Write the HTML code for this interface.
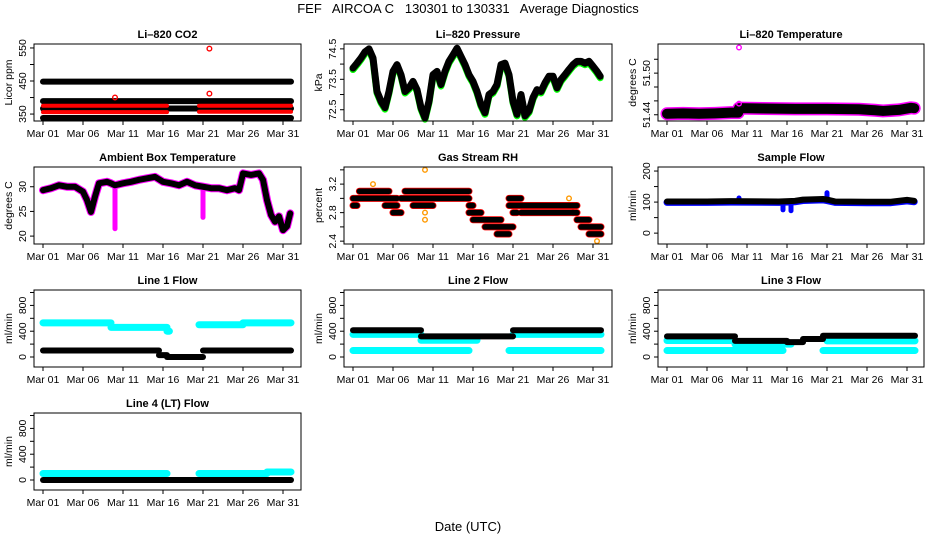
<!DOCTYPE html>
<html><head><meta charset="utf-8"><style>
html,body{margin:0;padding:0;background:#fff;}
svg{display:block;font-family:"Liberation Sans",Arial,sans-serif;}
</style></head><body>
<svg id="c" width="936" height="540" viewBox="0 0 936 540" xmlns="http://www.w3.org/2000/svg">
<text x="468" y="13" text-anchor="middle" font-size="13" style="white-space:pre" xml:space="preserve">FEF   AIRCOA C   130301 to 130331   Average Diagnostics</text>
<text x="468" y="531" text-anchor="middle" font-size="13">Date (UTC)</text>
</svg>
<script>
// ---------- data ----------
const dateTickDays = [0,5,10,15,20,25,30];
const dateTickLabels = ["Mar 01","Mar 06","Mar 11","Mar 16","Mar 21","Mar 26","Mar 31"];

const co2Black = [[0,31,448],[0,31,389],[0,31,367],[0,31,338]];
const co2Red = [[0,15.5,375],[0,15.5,356],[19.5,31,375],[19.5,31,357]];
const co2Outliers = [[9,400],[20.8,548],[20.8,412]];

const presDays = [0,0.5,1,1.5,2,2.5,3,3.5,4,4.5,5,5.5,6,6.5,7,7.5,8,8.5,9,9.5,10,10.5,11,11.5,12,12.5,13,13.5,14,14.5,15,15.5,16,16.5,17,17.5,18,18.5,19,19.5,20,20.5,21,21.5,22,22.5,23,23.5,24,24.5,25,25.5,26,26.5,27,27.5,28,28.5,29,29.5,30,30.5,30.9];
const presVals = [73.87,74.03,74.2,74.4,74.5,74.2,73.1,72.78,72.57,73.1,73.76,73.98,73.65,73.1,73.22,73.43,73.16,72.57,72.24,72.78,73.65,73.76,73.33,73.76,74.09,74.3,74.52,74.25,73.98,73.65,73.43,73.1,72.67,72.4,73,73.1,73.33,73.98,74.03,73.65,72.78,72.35,73,72.3,72.46,72.9,73.16,73.1,73.38,73.6,73.6,73.22,73.49,73.65,73.82,73.98,74.09,74.09,74.03,74.09,73.93,73.76,73.6];

const tempDays = [0,2,4,6,8,8.9,9,12,16,20,24,26,27,29,30.5,30.9];
const tempVals = [51.4415,51.442,51.4415,51.442,51.443,51.443,51.4495,51.449,51.4485,51.4485,51.448,51.4465,51.4455,51.447,51.450,51.4495];
const tempOutliers = [[9,51.537],[9,51.456]];

const ambDays = [0,1,2,3,4,5,5.5,6,6.5,7,8,8.5,9,10,11,12,13,14,15,16,17,18,19,20,21,22,23,24,24.5,25,26,27,27.5,28,28.5,29,29.5,30,30.5,30.9];
const ambVals = [29.3,29.7,30.3,30,30,29,27.3,24.9,28,30.7,31,30.7,30.3,30.7,31,31.4,31.7,32,31,30.7,30.3,31,30.3,30,29.7,29.7,29.3,29.7,29.3,32.7,32.4,32.7,31.4,27.3,24.3,22.9,24,21.2,22,24.6];
const ambDips = [[9,21.5,29.5],[20,23.8,29.5]];

const rhBands = [[0,5.5,3.0],[6,14.5,3.0],[0.8,4.5,3.1],[6.5,14.5,3.1],[0,0.5,2.9],[4,5.5,2.9],[7.5,10,2.9],[14.5,15,2.9],[5,6,2.8],[14.5,16,2.8],[20,20.5,2.8],[21,27.5,2.8],[27.5,28,2.8],[15,18.5,2.7],[28,29.5,2.7],[16.5,20,2.6],[28.5,31,2.6],[18,19.5,2.5],[29.5,31,2.5],[19.5,21,3.0],[19.5,28,2.9]];
const rhOutliers = [[2.5,3.2],[9,3.4],[9,2.7],[9,2.8],[27,3.0],[30.5,2.4]];

const sampDays = [0,5,8,14,16,17,19.5,20,21,25,28,30,30.9];
const sampVals = [102,102,103,102,104,108,110,108,102,101,101,107,104];
const sampBlueDips = [[14.5,75],[15.5,72],[20,130],[9,113]];

const l1Cyan = [[0,8.5,530],[8.5,15.5,460],[15.5,15.8,400],[19.5,25,500],[25,31,530]];
const l1Black = [[0,14.5,100],[14.5,15.5,30],[15.5,20,0],[20,31,100]];
const l2Black = [[0,8.5,415],[8.5,20,320],[20,31,415]];
const l2Cyan = [[0,8.5,350],[8.5,15.5,260],[20,31,350],[0,14.5,100],[19.5,31,100]];
const l3Black = [[0,8.5,320],[8.5,15,250],[15,17,230],[17,19.5,280],[19.5,31,330]];
const l3Cyan = [[0,8.5,255],[8.5,15.5,200],[20,31,250],[0,14.5,100],[19.5,31,100]];
const l4Cyan = [[0,15.5,100],[19.5,28,100],[28,31,125]];
const l4Black = [[0,31,0]];

// ---------- drawing ----------
const svg = document.getElementById('c');
const NS = 'http://www.w3.org/2000/svg';
function mk(tag, attrs, parent){const e=document.createElementNS(NS,tag);for(const k in attrs)e.setAttribute(k,attrs[k]);(parent||svg).appendChild(e);return e;}

const colLeft=[34,344,658], colW=[267,268,266], rowTop=[44,167,290,413], H=77;

function makePanel(name,title,ylabel,col,row,ylo,yhi,ticks,labels){
  const L=colLeft[col],T=rowTop[row],W=colW[col],B=T+H;
  const g=mk('g',{});
  
  
  const xs=d=>L+9+d*8;
  const ys=v=>B-(v-ylo)/(yhi-ylo)*H;
  const t=mk('text',{x:L+W/2,y:T-6,'text-anchor':'middle','font-size':11,'font-weight':'bold'},g);
  t.textContent=title;
  
  
  const plot=mk('g',{},g);
  
  
  const box=mk('rect',{x:L,y:T,width:W,height:H,fill:'none',stroke:'#000','stroke-width':1},g);
  
  
  const xa=mk('g',{},g);
  
  
  mk('line',{x1:xs(dateTickDays[0]),x2:xs(dateTickDays[dateTickDays.length-1]),y1:B,y2:B,stroke:'#000'},xa);
  dateTickDays.forEach((d,i)=>{
    mk('line',{x1:xs(d),x2:xs(d),y1:B,y2:B+4,stroke:'#000'},xa);
    const tl=mk('text',{x:xs(d),y:B+16,'text-anchor':'middle','font-size':10.5},xa);
    tl.textContent=dateTickLabels[i];
    
    
  });
  const ya=mk('g',{},g);
  
  
  mk('line',{x1:L,x2:L,y1:ys(ticks[0]),y2:ys(ticks[ticks.length-1]),stroke:'#000'},ya);
  ticks.forEach((v,i)=>{
    const y=ys(v);
    mk('line',{x1:L-4,x2:L,y1:y,y2:y,stroke:'#000'},ya);
    if(labels[i]){
      const tl=mk('text',{x:L-8,y:y,'text-anchor':'middle','font-size':10.5,transform:`rotate(-90 ${L-8} ${y})`},ya);
      tl.textContent=labels[i];
      
      
    }
  });
  const yt=mk('text',{x:L-22,y:T+H/2,'text-anchor':'middle','font-size':10.5,transform:`rotate(-90 ${L-22} ${T+H/2})`},g);
  yt.textContent=ylabel;
  
  
  return {plot,xs,ys};
}
function bands(p,list,color,w,dy,nm){
  list.forEach(s=>{
    const e=mk('line',{x1:p.xs(s[0]),x2:p.xs(s[1]),y1:p.ys(s[2])+(dy||0),y2:p.ys(s[2])+(dy||0),stroke:color,'stroke-width':w,'stroke-linecap':'round'},p.plot);
    
    
  });
}
function trace(p,days,vals,color,w,dy,nm){
  const pts=days.map((d,i)=>p.xs(d)+','+(p.ys(vals[i])+(dy||0))).join(' ');
  const e=mk('polyline',{points:pts,fill:'none',stroke:color,'stroke-width':w,'stroke-linejoin':'round','stroke-linecap':'round'},p.plot);
  
  
}
function dots(p,list,color,nm){
  list.forEach(s=>{
    const e=mk('circle',{cx:p.xs(s[0]),cy:p.ys(s[1]),r:2.3,fill:'none',stroke:color,'stroke-width':1.4},p.plot);
    
    
  });
}
const flowTicks=[0,200,400,600,800,1000], flowLabels=["0","","400","","800",""];

let p=makePanel('co2','Li\u2013820 CO2','Licor ppm',0,0,329,562,[350,400,450,500,550],["350","","450","","550"]);
bands(p,co2Black,'#000',6,0,'co2-black-band');
bands(p,co2Red,'#f00',4,0,'co2-red-band');
dots(p,co2Outliers,'#f00','co2-outlier');

p=makePanel('pressure','Li\u2013820 Pressure','kPa',1,0,72.13,74.66,[72.5,73,73.5,74,74.5],["72.5","","73.5","","74.5"]);
trace(p,presDays,presVals,'#0f0',7,1.5,'pressure-green-trace');
trace(p,presDays,presVals,'#000',7,0,'pressure-black-trace');

p=makePanel('temperature','Li\u2013820 Temperature','degrees C',2,0,51.431,51.542,[51.44,51.46,51.48,51.50,51.52],["51.44","","","51.50",""]);
trace(p,tempDays,tempVals,'#f0f',13,0,'temperature-magenta-trace');
trace(p,tempDays,tempVals,'#000',10,0,'temperature-black-trace');
dots(p,tempOutliers,'#f0f','temperature-outlier');

p=makePanel('ambient','Ambient Box Temperature','degrees C',0,1,18.4,34.0,[20,25,30],["20","25","30"]);
ambDips.forEach(s=>{
  const e=mk('line',{x1:p.xs(s[0]),x2:p.xs(s[0]),y1:p.ys(s[1]),y2:p.ys(s[2]),stroke:'#f0f','stroke-width':5,'stroke-linecap':'round'},p.plot);
  
  
});
trace(p,ambDays,ambVals,'#f0f',8,0,'ambient-magenta-trace');
trace(p,ambDays,ambVals,'#000',6,0,'ambient-black-trace');

p=makePanel('rh','Gas Stream RH','percent',1,1,2.36,3.44,[2.4,2.6,2.8,3.0,3.2,3.4],["2.4","","2.8","","3.2",""]);
bands(p,rhBands,'#f00',7,0,'rh-red-band');
bands(p,rhBands,'#000',5.5,0,'rh-black-band');
dots(p,rhOutliers,'#f90','rh-outlier');

p=makePanel('sample-flow','Sample Flow','ml/min',2,1,-35,213,[0,50,100,150,200],["0","","100","","200"]);
trace(p,sampDays,sampVals.map(v=>v-3),'#00f',7,0,'sample-blue-trace');
sampBlueDips.forEach(s=>{
  const e=mk('line',{x1:p.xs(s[0]),x2:p.xs(s[0]),y1:p.ys(s[1]),y2:p.ys(102),stroke:'#00f','stroke-width':5,'stroke-linecap':'round'},p.plot);
  
  
});
trace(p,sampDays,sampVals,'#000',6,0,'sample-black-trace');

p=makePanel('line1','Line 1 Flow','ml/min',0,2,-155,1039,flowTicks,flowLabels);
bands(p,l1Cyan,'#0ff',7,0,'line1-cyan-band');
bands(p,l1Black,'#000',6,0,'line1-black-band');
p=makePanel('line2','Line 2 Flow','ml/min',1,2,-155,1039,flowTicks,flowLabels);
bands(p,l2Cyan,'#0ff',7,0,'line2-cyan-band');
bands(p,l2Black,'#000',6,0,'line2-black-band');
p=makePanel('line3','Line 3 Flow','ml/min',2,2,-155,1039,flowTicks,flowLabels);
bands(p,l3Cyan,'#0ff',7,0,'line3-cyan-band');
bands(p,l3Black,'#000',6,0,'line3-black-band');
p=makePanel('line4','Line 4 (LT) Flow','ml/min',0,3,-155,1039,flowTicks,flowLabels);
bands(p,l4Cyan,'#0ff',7,0,'line4-cyan-band');
bands(p,l4Black,'#000',6,0,'line4-black-band');
</script>
</body></html>
